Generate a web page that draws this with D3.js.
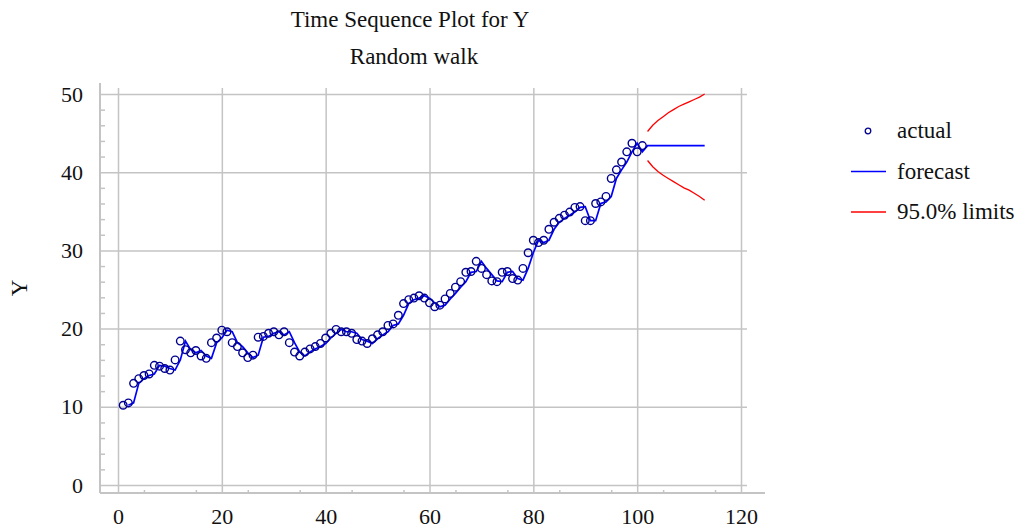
<!DOCTYPE html>
<html>
<head>
<meta charset="utf-8">
<script src="https://cdn.jsdelivr.net/npm/d3@7"></script>
<style>
  body { margin: 0; background: #fff; }
  text { font-family: "Liberation Serif", "Times New Roman", serif; fill: #111; }
</style>
</head>
<body>
<div id="chart"></div>
<script>
// Data
// ====================================
// actual values, periods 1..101
var actualY = [
  10.2, 10.5, 13.0, 13.6, 14.0, 14.2, 15.3, 15.2, 14.9, 14.7,
  16.0, 18.4, 17.3, 16.9, 17.2, 16.5, 16.2, 18.2, 18.8, 19.8,
  19.6, 18.2, 17.7, 16.9, 16.3, 16.6, 18.9, 19.0, 19.4, 19.6,
  19.2, 19.6, 18.2, 17.0, 16.5, 17.0, 17.4, 17.7, 18.1, 18.8,
  19.4, 19.9, 19.6, 19.6, 19.4, 18.6, 18.4, 18.1, 18.7, 19.2,
  19.6, 20.4, 20.6, 21.7, 23.2, 23.7, 23.9, 24.2, 23.9, 23.3,
  22.8, 23.0, 23.8, 24.5, 25.3, 26.0, 27.2, 27.3, 28.6, 27.7,
  26.9, 26.1, 26.0, 27.2, 27.3, 26.4, 26.2, 27.7, 29.7, 31.3,
  31.0, 31.3, 32.7, 33.6, 34.1, 34.5, 34.9, 35.5, 35.6, 33.8,
  33.8, 36.0, 36.2, 36.9, 39.2, 40.3, 41.3, 42.6, 43.7, 42.6,
  43.4
];

// one-step forecast line, periods 2..113
var forecastY = [
  10.2, 10.5, 13.0, 13.6, 14.0, 14.2, 15.3, 15.2, 14.9, 14.7,
  16.0, 18.4, 17.3, 16.9, 17.2, 16.5, 16.2, 18.2, 18.8, 19.8,
  19.6, 18.2, 17.7, 16.9, 16.3, 16.6, 18.9, 19.0, 19.4, 19.6,
  19.2, 19.6, 18.2, 17.0, 16.5, 17.0, 17.4, 17.7, 18.1, 18.8,
  19.4, 19.9, 19.6, 19.6, 19.4, 18.6, 18.4, 18.1, 18.7, 19.2,
  19.6, 20.4, 20.6, 21.7, 23.2, 23.7, 23.9, 24.2, 23.9, 23.3,
  22.8, 23.0, 23.8, 24.5, 25.3, 26.0, 27.2, 27.3, 28.6, 27.7,
  26.9, 26.1, 26.0, 27.2, 27.3, 26.4, 26.2, 27.7, 29.7, 31.3,
  31.0, 31.3, 32.7, 33.6, 34.1, 34.5, 34.9, 35.5, 35.6, 33.8,
  33.8, 36.0, 36.2, 36.9, 39.2, 40.3, 41.3, 42.6, 43.7, 42.6,
  43.4, 43.4, 43.4, 43.4, 43.4, 43.4, 43.4, 43.4, 43.4, 43.4,
  43.4, 43.4
];

// 95% limits, periods 102..113
var upperY = [45.2, 46.0, 46.6, 47.1, 47.6, 48.0, 48.4, 48.7, 49.0, 49.3, 49.6, 50.0];
var lowerY = [41.5, 40.7, 40.1, 39.6, 39.2, 38.8, 38.4, 38.0, 37.7, 37.3, 36.9, 36.4];

var xTicks = [0, 20, 40, 60, 80, 100, 120];
var yTicks = [0, 10, 20, 30, 40, 50];
var legendItems = ["actual", "forecast", "95.0% limits"];

// Section 1: canvas and scales
// ============================
var width = 1020;
var height = 530;

// the frame (axis lines) sits a little outside the data origin
var axisLeftX = 100;
var axisBottomY = 493;
var gridTop = 88;
var gridRight = 747;

var svg = d3
  .select("#chart")
  .append("svg")
  .attr("width", width)
  .attr("height", height);

var xScale = d3.scaleLinear().domain([0, 120]).range([118, 741]);
var yScale = d3.scaleLinear().domain([0, 50]).range([485, 94]);

var gridColor = "#c4c4c4";

// Section 2: grid, axes and ticks
// ===============================
var xAxis = d3
  .axisBottom(xScale)
  .tickValues(xTicks)
  .tickSize(-(axisBottomY - gridTop))
  .tickPadding(15)
  .tickFormat(d3.format("d"));

var gx = svg
  .append("g")
  .attr("class", "xAxis")
  .attr("transform", "translate(0," + axisBottomY + ")")
  .call(xAxis);

var yAxis = d3
  .axisLeft(yScale)
  .tickValues(yTicks)
  .tickSize(-(gridRight - axisLeftX))
  .tickPadding(17)
  .tickFormat(d3.format("d"));

var gy = svg
  .append("g")
  .attr("class", "yAxis")
  .attr("transform", "translate(" + axisLeftX + ",0)")
  .call(yAxis);

[gx, gy].forEach(function(g) {
  g.select(".domain").remove();
  g.selectAll(".tick line").attr("stroke", gridColor).attr("stroke-width", 1.5);
  g.selectAll(".tick text")
    .attr("font-size", 22)
    .attr("font-family", "Liberation Serif, serif")
    .attr("fill", "#111");
});

// minor ticks on the left axis (every 2) and bottom axis (every 5)
var yMinor = d3
  .axisRight(yScale)
  .tickValues(d3.range(0, 51, 2).filter(function(v) { return v % 10 !== 0; }))
  .tickSize(5)
  .tickFormat("");
svg
  .append("g")
  .attr("transform", "translate(" + axisLeftX + ",0)")
  .call(yMinor)
  .call(function(g) {
    g.select(".domain").remove();
    g.selectAll("line").attr("stroke", gridColor).attr("stroke-width", 1.5);
  });

var xMinor = d3
  .axisTop(xScale)
  .tickValues(d3.range(5, 120, 10))
  .tickSize(3)
  .tickFormat("");
svg
  .append("g")
  .attr("transform", "translate(0," + axisBottomY + ")")
  .call(xMinor)
  .call(function(g) {
    g.select(".domain").remove();
    g.selectAll("line").attr("stroke", gridColor).attr("stroke-width", 1.5);
  });

// axis lines
svg.append("line")
  .attr("x1", axisLeftX).attr("x2", axisLeftX)
  .attr("y1", 83).attr("y2", axisBottomY)
  .attr("stroke", gridColor).attr("stroke-width", 2);
svg.append("line")
  .attr("x1", axisLeftX).attr("x2", 765)
  .attr("y1", axisBottomY).attr("y2", axisBottomY)
  .attr("stroke", gridColor).attr("stroke-width", 2);

// Section 3: titles
// =================
svg.append("text")
  .attr("x", 410).attr("y", 27)
  .attr("text-anchor", "middle")
  .attr("font-size", 23)
  .text("Time Sequence Plot for Y");

svg.append("text")
  .attr("x", 414).attr("y", 64)
  .attr("text-anchor", "middle")
  .attr("font-size", 23)
  .text("Random walk");

svg.append("text")
  .attr("transform", "translate(27,288)rotate(-90)")
  .attr("text-anchor", "middle")
  .attr("font-size", 23)
  .text("Y");

// Section 4: the series
// =====================
var line = d3.line()
  .x(function(d) { return xScale(d.t); })
  .y(function(d) { return yScale(d.v); });

var forecastData = forecastY.map(function(v, i) { return { t: i + 2, v: v }; });
var upperData = upperY.map(function(v, i) { return { t: i + 102, v: v }; });
var lowerData = lowerY.map(function(v, i) { return { t: i + 102, v: v }; });
var actualData = actualY.map(function(v, i) { return { t: i + 1, v: v }; });

svg.append("path")
  .datum(upperData)
  .attr("d", line)
  .attr("fill", "none")
  .attr("stroke", "#ff0000")
  .attr("stroke-width", 1.3);

svg.append("path")
  .datum(lowerData)
  .attr("d", line)
  .attr("fill", "none")
  .attr("stroke", "#ff0000")
  .attr("stroke-width", 1.3);

svg.append("path")
  .datum(forecastData)
  .attr("d", line)
  .attr("fill", "none")
  .attr("stroke", "#0000ff")
  .attr("stroke-width", 1.7);

svg.selectAll("circle.actual")
  .data(actualData)
  .enter()
  .append("circle")
  .attr("class", "actual")
  .attr("cx", function(d) { return xScale(d.t); })
  .attr("cy", function(d) { return yScale(d.v); })
  .attr("r", 3.8)
  .attr("fill", "none")
  .attr("stroke", "#000090")
  .attr("stroke-width", 1.4);

// Section 5: legend
// =================
var legend = svg.append("g").attr("transform", "translate(851,131)");
var legendGap = 40.5;

legend.append("circle")
  .attr("cx", 17).attr("cy", 0).attr("r", 2.8)
  .attr("fill", "none").attr("stroke", "#000090").attr("stroke-width", 1.3);
legend.append("line")
  .attr("x1", 0).attr("x2", 35).attr("y1", legendGap).attr("y2", legendGap)
  .attr("stroke", "#0000ff").attr("stroke-width", 1.5);
legend.append("line")
  .attr("x1", 0).attr("x2", 35).attr("y1", legendGap * 2).attr("y2", legendGap * 2)
  .attr("stroke", "#ff0000").attr("stroke-width", 1.5);

legend.selectAll("text.leg")
  .data(legendItems)
  .enter()
  .append("text")
  .attr("class", "leg")
  .attr("x", 46)
  .attr("y", function(d, i) { return i * legendGap + 7; })
  .attr("font-size", 23)
  .text(function(d) { return d; });
</script>
</body>
</html>
